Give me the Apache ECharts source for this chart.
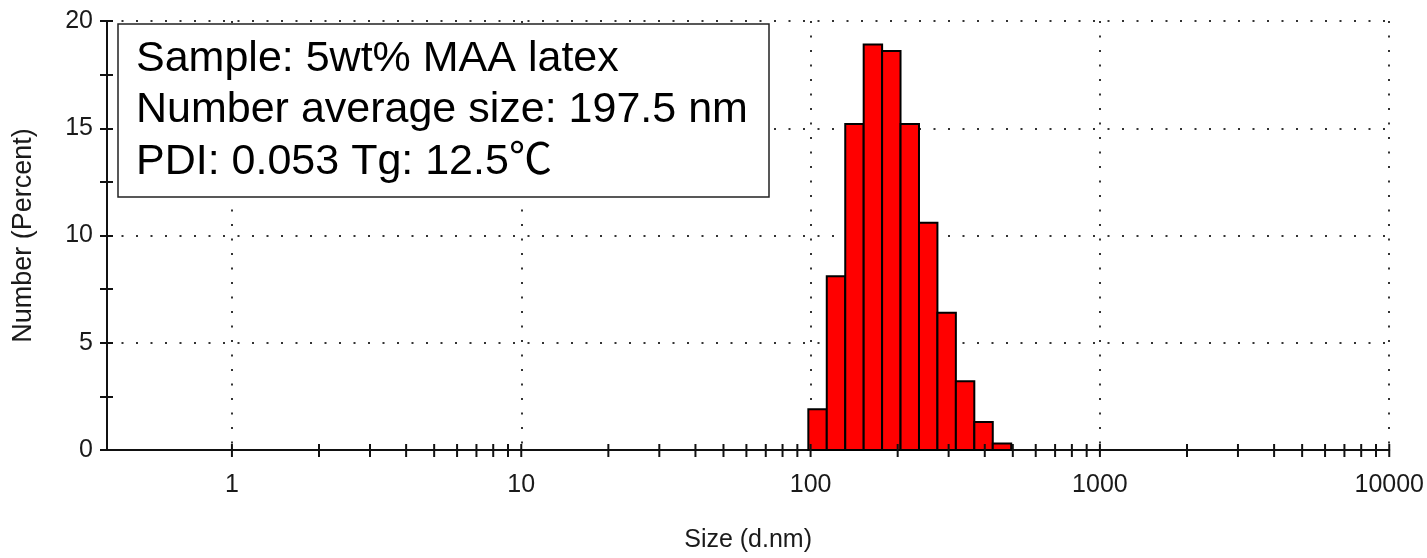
<!DOCTYPE html>
<html>
<head>
<meta charset="utf-8">
<script src="https://cdn.jsdelivr.net/npm/echarts@6/dist/echarts.min.js"></script>
<style>
  html, body { margin: 0; padding: 0; background: #fff; }
  #chart { width: 1427px; height: 558px; }
</style>
</head>
<body>
<div id="chart"></div>
<script>
(function() {
  // size classes (d.nm) and number distribution (%)
  const sizes = [105.7, 122.4, 141.8, 164.2, 190.1, 220.2, 255.0, 295.3, 342.0, 396.1, 458.7];
  const numbers = [1.9, 8.1, 15.2, 18.9, 18.6, 15.2, 10.6, 6.4, 3.2, 1.3, 0.3];
  const decades = [1, 10, 100, 1000, 10000];
  const minorSteps = [2, 3, 4, 5, 6, 7, 8, 9];
  const infoLines = [
    'Sample: 5wt% MAA latex',
    'Number average size: 197.5 nm',
    'PDI: 0.053 Tg: 12.5℃'
  ];

  const axisFont = '"Liberation Sans", Arial, sans-serif';
  const textColor = '#1a1a1a';

  // log bins: each bar spans half a class step on both sides
  const half = Math.sqrt(sizes[1] / sizes[0]);
  const bars = sizes.map((s, i) => [s / half, s * half, numbers[i]]);

  const xTicks = [];
  decades.forEach((d, i) => {
    xTicks.push(d);
    if (i < decades.length - 1) {
      minorSteps.forEach(m => xTicks.push(m * d));
    }
  });

  const chart = echarts.init(document.getElementById('chart'));

  const yBase = {
    type: 'value',
    min: 0,
    max: 20,
    interval: 5
  };

  const option = {
    animation: false,
    grid: { left: 107, right: 35, top: 21, bottom: 106 },
    xAxis: {
      type: 'log',
      logBase: 10,
      min: 0.37,
      max: 10000,
      name: 'Size (d.nm)',
      nameLocation: 'middle',
      nameGap: 78,
      nameTextStyle: { fontFamily: axisFont, fontSize: 25, color: textColor },
      axisLine: { show: true, lineStyle: { color: '#111', width: 2 } },
      axisTick: { show: false },
      axisLabel: {
        margin: 23,
        fontFamily: axisFont,
        fontSize: 25,
        color: textColor,
        formatter: function(v) {
          return v < 1 ? '' : String(Math.round(v));
        }
      },
      splitLine: {
        show: true,
        lineStyle: { color: '#333', width: 2, type: [2, 12.5] }
      }
    },
    yAxis: [
      Object.assign({}, yBase, {
        name: 'Number (Percent)',
        nameLocation: 'middle',
        nameGap: 70,
        nameTextStyle: { fontFamily: axisFont, fontSize: 27, color: textColor },
        axisLine: { show: true, lineStyle: { color: '#111', width: 2 } },
        axisTick: { show: true, length: 7, lineStyle: { color: '#111', width: 2 } },
        minorTick: { show: true, splitNumber: 2, length: 7, lineStyle: { color: '#111', width: 2 } },
        axisLabel: { margin: 14, fontFamily: axisFont, fontSize: 25, color: textColor },
        splitLine: {
          show: true,
          lineStyle: { color: '#333', width: 2, type: [2, 12.5] }
        }
      }),
      Object.assign({}, yBase, {
        position: 'left',
        axisLine: { show: false },
        axisTick: { show: true, inside: true, length: 6, lineStyle: { color: '#111', width: 2 } },
        minorTick: { show: true, splitNumber: 2, length: 6, lineStyle: { color: '#111', width: 2 } },
        axisLabel: { show: false },
        splitLine: { show: false }
      })
    ],
    graphic: [
      {
        type: 'rect',
        z: 100,
        shape: { x: 118, y: 24, width: 651, height: 173 },
        style: { fill: '#fff', stroke: '#222', lineWidth: 1.5 }
      },
      {
        type: 'text',
        z: 101,
        x: 136,
        y: 33,
        style: {
          text: infoLines.join('\n'),
          font: '43px "Liberation Sans", Arial, "Noto Sans CJK SC", sans-serif',
          lineHeight: 51.5,
          fill: '#000'
        }
      }
    ],
    series: [
      {
        type: 'custom',
        name: 'Number',
        xAxisIndex: 0,
        yAxisIndex: 0,
        data: bars,
        encode: { x: [0, 1], y: 2 },
        renderItem: function(params, api) {
          const p0 = api.coord([api.value(0), api.value(2)]);
          const p1 = api.coord([api.value(1), 0]);
          return {
            type: 'rect',
            shape: { x: p0[0], y: p0[1], width: p1[0] - p0[0], height: p1[1] - p0[1] },
            style: { fill: '#ff0000', stroke: '#000', lineWidth: 2 }
          };
        },
        z: 5
      },
      {
        type: 'custom',
        name: 'ticks',
        clip: false,
        silent: true,
        data: xTicks.map(v => [v, 0]),
        encode: { x: 0, y: 1 },
        renderItem: function(params, api) {
          const p = api.coord([api.value(0), 0]);
          return {
            type: 'line',
            shape: { x1: p[0], y1: p[1] - 6, x2: p[0], y2: p[1] + 7 },
            style: { stroke: '#111', lineWidth: 2 }
          };
        },
        z: 6
      }
    ]
  };

  chart.setOption(option);
}());
</script>
</body>
</html>
